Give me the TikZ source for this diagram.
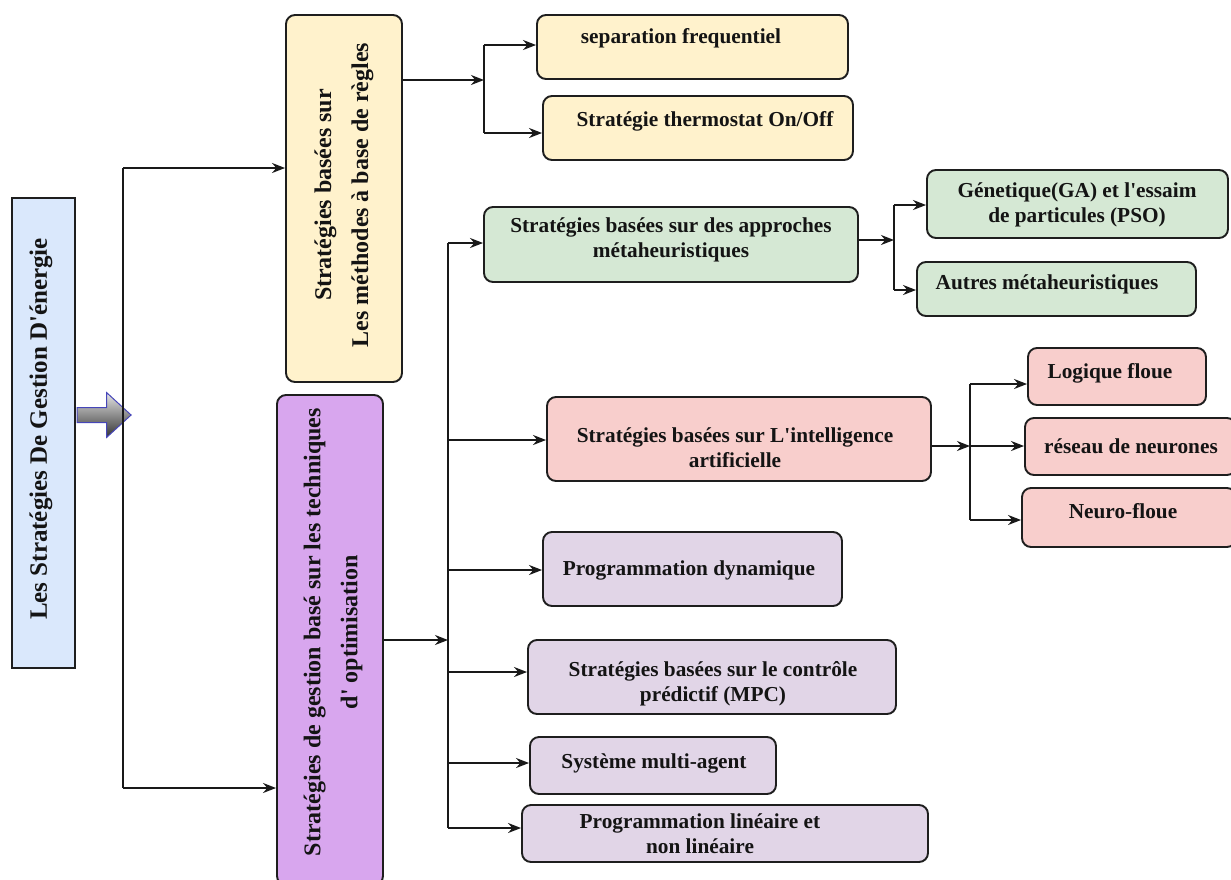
\documentclass[tikz,border=0pt]{standalone}
\usepackage{fontspec}
\setmainfont{Liberation Serif}
\usetikzlibrary{arrows.meta,shapes.arrows}

\definecolor{cblue}{HTML}{DAE8FC}
\definecolor{cyellow}{HTML}{FFF2CC}
\definecolor{cgreen}{HTML}{D5E8D4}
\definecolor{cpink}{HTML}{F8CECC}
\definecolor{clilac}{HTML}{E1D5E7}
\definecolor{cviolet}{HTML}{D8A6EE}
\definecolor{cedge}{HTML}{1E1E1E}
\newcommand{\apo}{\textquotesingle}

\begin{document}
\begin{tikzpicture}[x=1pt,y=-1pt,
  box/.style={draw=cedge, line width=1.9pt, rounded corners=9pt, inner sep=0pt},
  txt/.style={font=\bfseries\fontsize{21.3}{25}\selectfont, align=center, inner sep=0pt, text=black!92},
  bigtxt/.style={font=\bfseries\fontsize{24}{37}\selectfont, align=center, inner sep=0pt, rotate=90, text=black!92},
  wire/.style={line width=1.8pt, draw=black!90},
  arr/.style={wire, -{Stealth[length=13pt,width=10pt]}},
]
\useasboundingbox (0,0) rectangle (1231,879);

% root
\node[draw=cedge, line width=1.9pt, fill=cblue, minimum width=63pt, minimum height=470pt, inner sep=0pt] (root) at (43.5,433) {};
\node[bigtxt, font=\bfseries\fontsize{25}{30}\selectfont] (rootT) at (41,429) {Les Stratégies De Gestion D\apo énergie};

% main branches
\node[box, fill=cyellow, minimum width=116pt, minimum height=367pt] (rules) at (344,198.5) {};
\node[bigtxt] (rulesT) at (344,195) {Stratégies basées sur\\Les méthodes à base de règles};
\node[box, fill=cviolet, minimum width=106pt, minimum height=490pt] (opt) at (330,640) {};
\node[bigtxt] (optT) at (333,632) {Stratégies de gestion basé sur les techniques\\d\apo{} optimisation};

% rule-based leaves
\node[box, fill=cyellow, minimum width=311pt, minimum height=64pt] (sep) at (692.5,47) {};
\node[txt] (sepT) at (681,38) {separation frequentiel};
\node[box, fill=cyellow, minimum width=310pt, minimum height=64pt] (thermo) at (698,128) {};
\node[txt] (thermoT) at (705,121) {Stratégie thermostat On/Off};

% optimisation leaves
\node[box, fill=cgreen, minimum width=374pt, minimum height=75pt] (meta) at (671,244.5) {};
\node[txt] (metaT) at (671,240) {Stratégies basées sur des approches\\métaheuristiques};
\node[box, fill=cgreen, minimum width=301pt, minimum height=68pt] (ga) at (1077.5,204) {};
\node[txt] (gaT) at (1077,205) {Génetique(GA) et l\apo essaim\\de particules (PSO)};
\node[box, fill=cgreen, minimum width=279pt, minimum height=54pt] (autres) at (1056.5,289) {};
\node[txt] (autresT) at (1047,284) {Autres métaheuristiques};

\node[box, fill=cpink, minimum width=384pt, minimum height=84pt] (ai) at (739,439) {};
\node[txt] (aiT) at (735,448) {Stratégies basées sur L\apo intelligence\\artificielle};
\node[box, fill=cpink, minimum width=178pt, minimum height=57pt] (flou) at (1117,376.5) {};
\node[txt] (flouT) at (1110,373) {Logique floue};
\node[box, fill=cpink, minimum width=211pt, minimum height=57pt] (rn) at (1130.5,446.5) {};
\node[txt] (rnT) at (1131,446) {réseau de neurones};
\node[box, fill=cpink, minimum width=214pt, minimum height=59pt] (nf) at (1129,517.5) {};
\node[txt] (nfT) at (1123,511) {Neuro-floue};

\node[box, fill=clilac, minimum width=299pt, minimum height=74pt] (pd) at (692.5,569) {};
\node[txt] (pdT) at (689,570) {Programmation dynamique};
\node[box, fill=clilac, minimum width=368pt, minimum height=74pt] (mpc) at (712,677) {};
\node[txt] (mpcT) at (713,684) {Stratégies basées sur le contrôle\\prédictif (MPC)};
\node[box, fill=clilac, minimum width=246pt, minimum height=57pt] (sma) at (653,765.5) {};
\node[txt] (smaT) at (654,763) {Système multi-agent};
\node[box, fill=clilac, minimum width=406pt, minimum height=57pt] (pl) at (725,833.5) {};
\node[txt] (plT) at (700,834) {Programmation linéaire et\\non linéaire};

% block arrow out of the root
\node[single arrow, draw=blue!45!gray, line width=1pt, top color=gray!20, bottom color=black!80,
      minimum height=54pt, minimum width=44pt, inner sep=7pt, single arrow head extend=15pt,
      single arrow tip angle=85, shading angle=0] (blk) at (100,415) {};

% trunk on the left
\coordinate (L1) at (123,168);
\coordinate (L2) at (123,788);
\draw[wire] (L1) -- (L2);
\draw[arr] (L1) -- (L1 -| rules.west);
\draw[arr] (L2) -- (L2 -| opt.west);

% rule-based fork
\coordinate (J1) at (484,80);
\coordinate (J1a) at (484,45);
\coordinate (J1b) at (484,133);
\draw[arr] (rules.east |- J1) -- (J1);
\draw[wire] (J1a) -- (J1b);
\draw[arr] (J1a) -- (J1a -| sep.west);
\draw[arr] (J1b) -- (J1b -| thermo.west);

% optimisation fork
\coordinate (J2) at (448,640);
\coordinate (J2a) at (448,243);
\coordinate (J2b) at (448,828);
\draw[arr] (opt.east |- J2) -- (J2);
\draw[wire] (J2a) -- (J2b);
\draw[arr] (J2a) -- (J2a -| meta.west);
\coordinate (J2c) at (448,440);
\draw[arr] (J2c) -- (J2c -| ai.west);
\coordinate (J2d) at (448,570);
\draw[arr] (J2d) -- (J2d -| pd.west);
\coordinate (J2e) at (448,672);
\draw[arr] (J2e) -- (J2e -| mpc.west);
\coordinate (J2f) at (448,763);
\draw[arr] (J2f) -- (J2f -| sma.west);
\draw[arr] (J2b) -- (J2b -| pl.west);

% metaheuristics fork
\coordinate (J3) at (894,240);
\coordinate (J3a) at (894,205);
\coordinate (J3b) at (894,290);
\draw[arr] (meta.east |- J3) -- (J3);
\draw[wire] (J3a) -- (J3b);
\draw[arr] (J3a) -- (J3a -| ga.west);
\draw[arr] (J3b) -- (J3b -| autres.west);

% artificial intelligence fork
\coordinate (J4) at (970,446);
\coordinate (J4a) at (970,384);
\coordinate (J4b) at (970,520);
\draw[arr] (ai.east |- J4) -- (J4);
\draw[wire] (J4a) -- (J4b);
\draw[arr] (J4a) -- (J4a -| flou.west);
\draw[arr] (J4) -- (J4 -| rn.west);
\draw[arr] (J4b) -- (J4b -| nf.west);
\end{tikzpicture}
\end{document}
